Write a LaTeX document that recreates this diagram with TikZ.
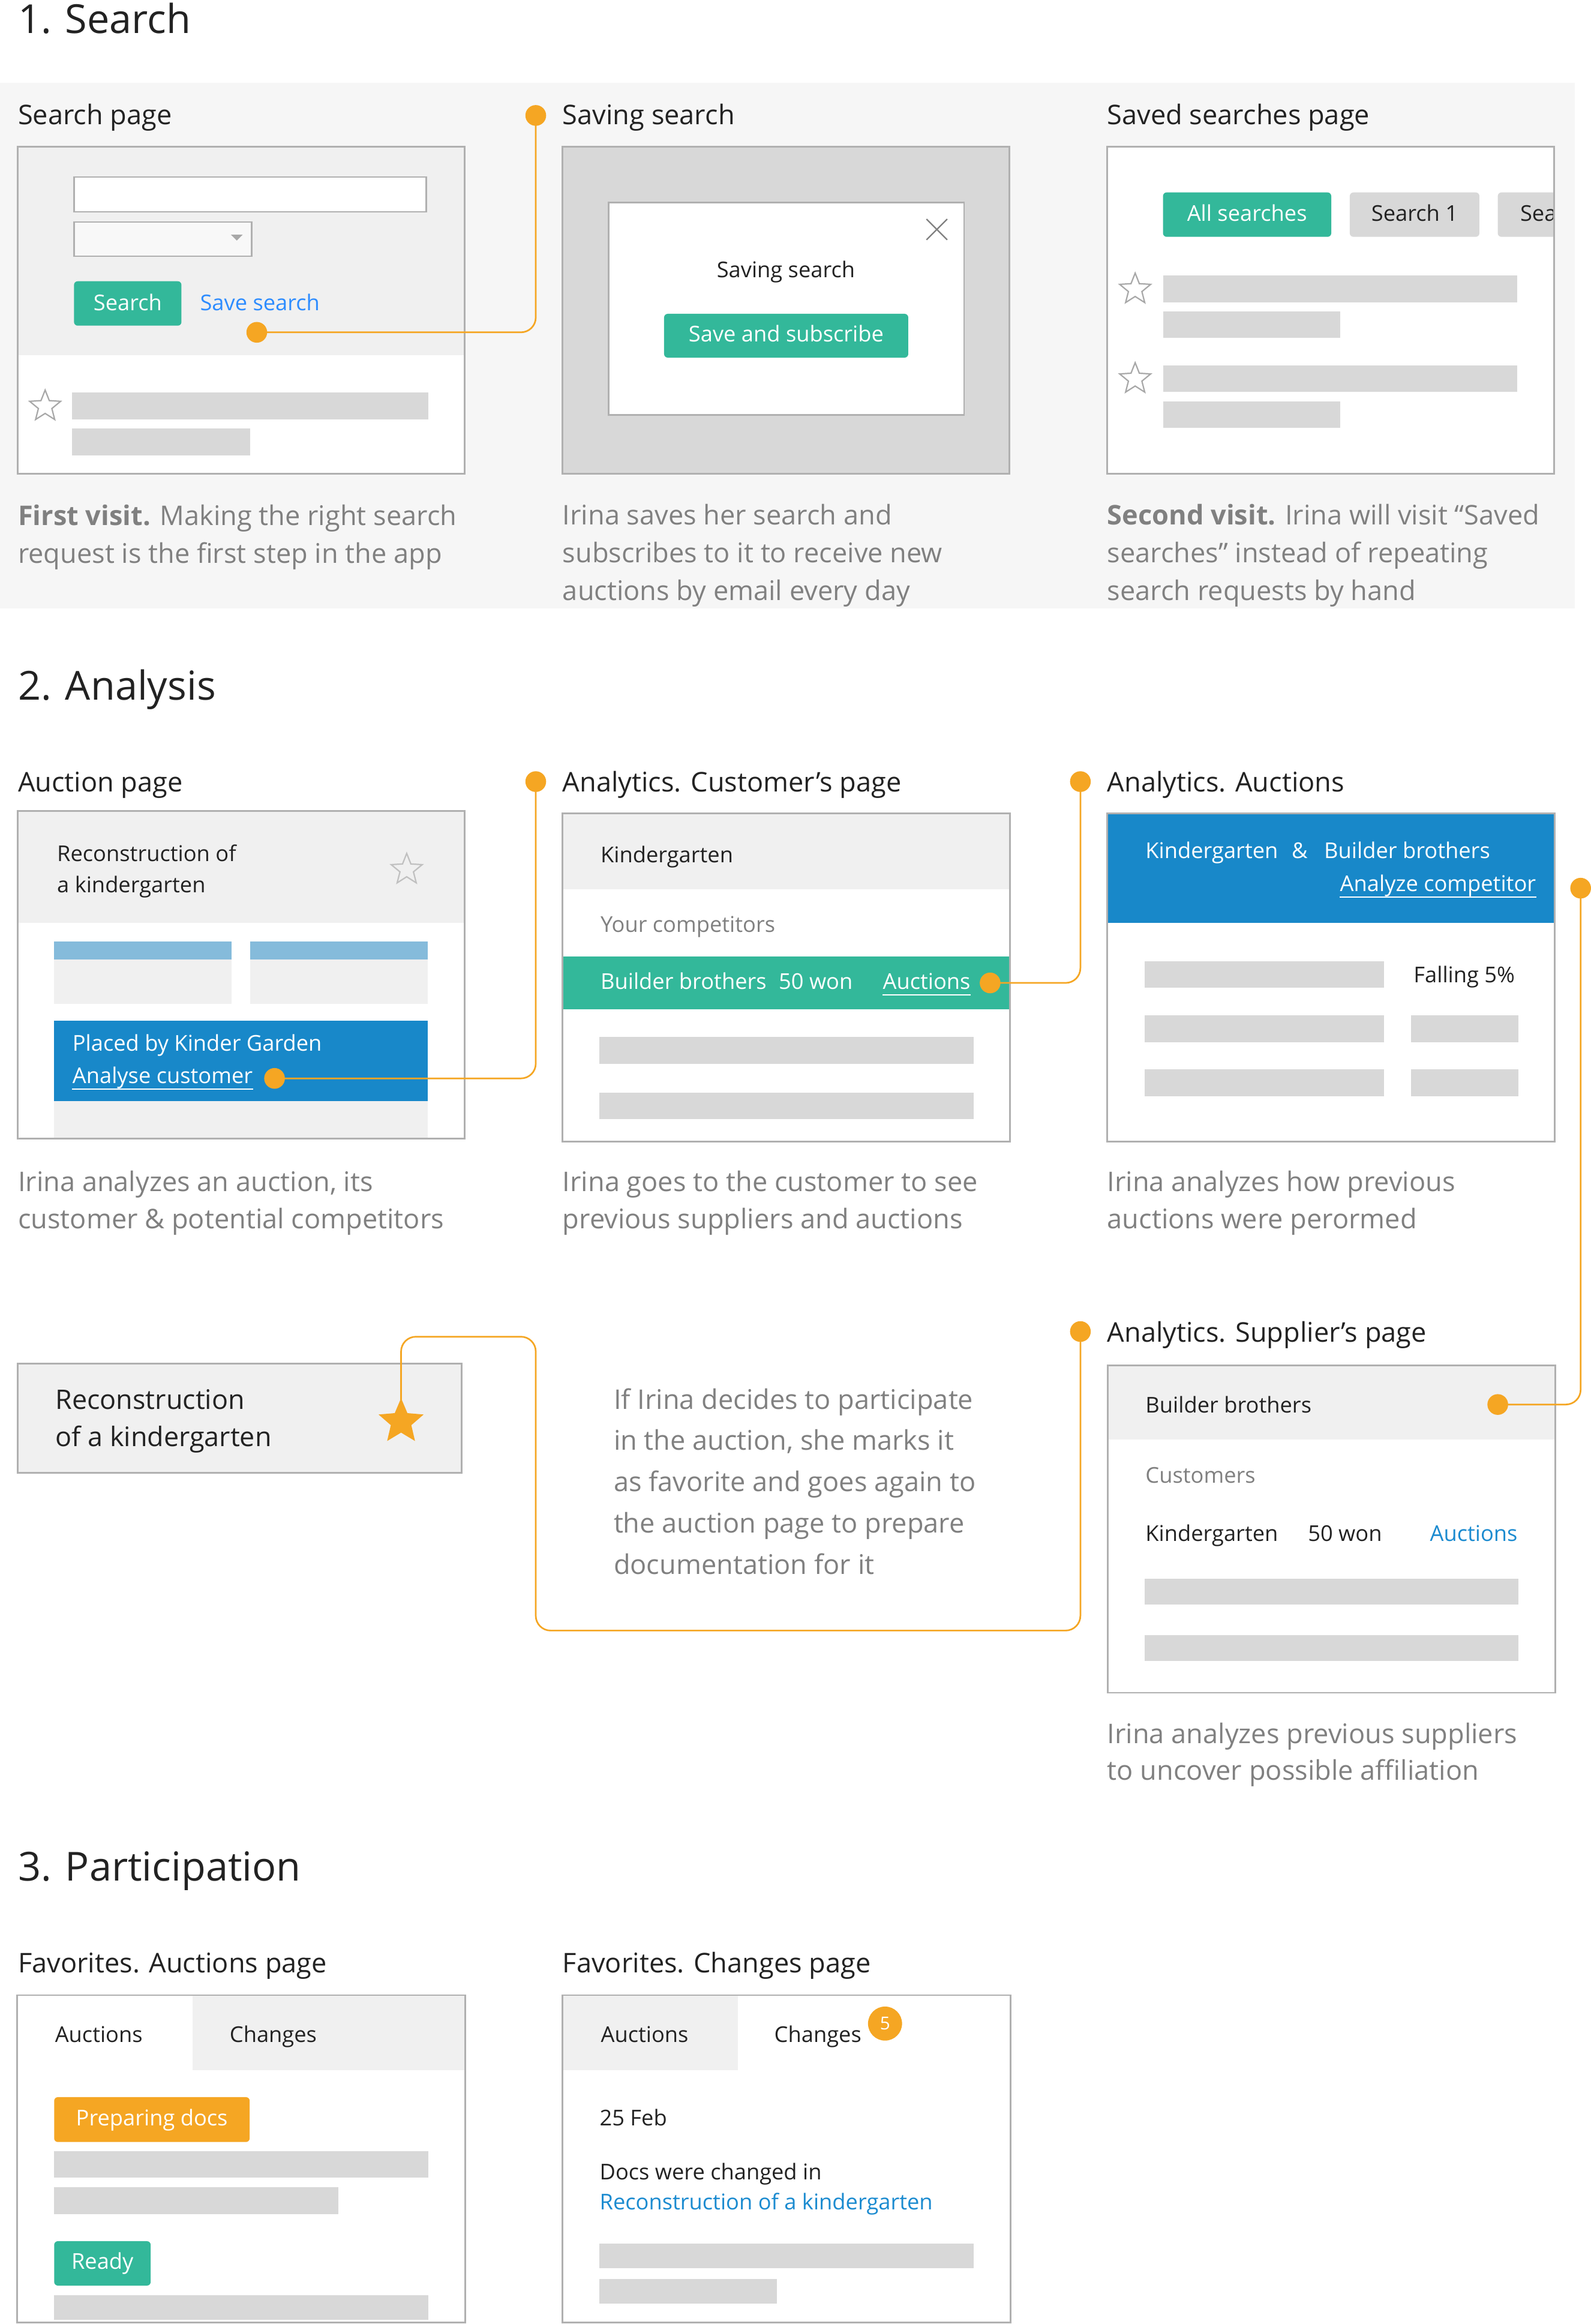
\documentclass[tikz,border=0pt]{standalone}
\usepackage{fontspec}
\setmainfont{Open Sans}
\usetikzlibrary{shapes.geometric}
\definecolor{cteal}{HTML}{33B89A}
\definecolor{cblue}{HTML}{1888C9}
\definecolor{cblue2}{HTML}{1B8BD0}
\definecolor{corange}{HTML}{F5A623}
\definecolor{cborder}{HTML}{B0B0B0}
\definecolor{clight}{HTML}{F0F0F0}
\definecolor{cbar}{HTML}{D8D8D8}
\definecolor{ccap}{HTML}{808080}
\definecolor{cband}{HTML}{F6F6F6}
\definecolor{clink}{HTML}{2D8CFF}
\definecolor{clblue}{HTML}{85BBDB}
\definecolor{ctext}{HTML}{222222}
\definecolor{cstar}{HTML}{A8A8A8}
\definecolor{cdrop}{HTML}{F8F8F8}
\pgfdeclarelayer{connlayer}
\pgfdeclarelayer{frontlayer}
\pgfsetlayers{main,connlayer,frontlayer}
\tikzset{
  frame/.style={draw=cborder, line width=1.2pt},
  bar/.style={fill=cbar},
  conn/.style={draw=corange, line width=1.1pt, rounded corners=10pt},
  dot/.style={circle, fill=corange, inner sep=0pt, minimum size=14pt},
  txt/.style={inner sep=0pt, anchor=base west, text=ctext},
  lab/.style={txt, font=\fontsize{18.3}{22}\selectfont},
  body/.style={txt, font=\fontsize{14.7}{18}\selectfont},
  capt/.style={txt, text=ccap, font=\fontsize{18.3}{22}\selectfont},
  ttl/.style={txt, font=\fontsize{27}{32}\selectfont},
  btntext/.style={body, anchor=base, text=white},
  ostar/.style={star, star points=5, star point ratio=2.3, draw=cstar, line width=0.9pt, inner sep=0pt, minimum size=22pt},
  ulink/.style={line width=0.9pt},
}
\begin{document}
\begin{tikzpicture}[x=1pt,y=-1pt]
\useasboundingbox (0,0) rectangle (1075,1569.96);
\fill[white] (0,0) rectangle (1075,1569.96);
% ---------------- Section 1 ----------------
\fill[cband] (0,56) rectangle (1064,411);
\node[ttl] (t1) at (12,22.4) {1. Search};
\node[lab] (l1) at (12,84) {Search page};
\node[lab] (l2) at (380,84) {Saving search};
\node[lab] (l3) at (748,84) {Saved searches page};

% Search page
\fill[clight] (12,99) rectangle (314,240);
\fill[white] (12,240) rectangle (314,320);
\draw[frame] (12,99) rectangle (314,320);
\draw[fill=white, draw=cborder, line width=1pt] (50,119.5) rectangle (288,143);
\draw[fill=cdrop, draw=cborder, line width=1pt] (50,150) rectangle (170,173);
\fill[cstar] (156,158.5) -- (164,158.5) -- (160,162.5) -- cycle;
\fill[cteal, rounded corners=2.5pt] (50,190) rectangle (122.6,220);
\node[btntext] (bsearch) at (86.3,209.6) {Search};
\node[body, text=clink] (savelink) at (135,209.6) {Save search};
\node[ostar] (s1) at (30.5,274.5) {};
\fill[cbar] (48.7,265) rectangle (289.6,283.5);
\fill[cbar] (48.7,289.6) rectangle (169,307.6);
\node[capt] (c1a) at (12,355) {\textbf{First visit.} Making the right search};
\node[capt] (c1b) at (12,380.6) {request is the first step in the app};

% Saving search
\fill[cbar] (380,99) rectangle (682,320);
\draw[frame] (380,99) rectangle (682,320);
\draw[fill=white, draw=cborder, line width=1.2pt] (411.4,136.8) rectangle (651.4,280.3);
\draw[draw=ccap, line width=0.9pt] (626,148) -- (640,162) (626,162) -- (640,148);
\node[body, anchor=base] (dlgt) at (531,187.5) {Saving search};
\fill[cteal, rounded corners=2.5pt] (448.7,212) rectangle (613.7,241.6);
\node[btntext] (bsave) at (531.2,230.7) {Save and subscribe};
\node[capt] (c2a) at (380,354.5) {Irina saves her search and};
\node[capt] (c2b) at (380,380) {subscribes to it to receive new};
\node[capt] (c2c) at (380,405.5) {auctions by email every day};

% Saved searches page
\fill[white] (748,99) rectangle (1050,320);
\fill[cteal, rounded corners=2.5pt] (785.8,130) rectangle (899.5,160);
\node[btntext] (ball) at (842.6,149.3) {All searches};
\fill[cbar, rounded corners=2.5pt] (912,130) rectangle (999.6,160);
\node[body, anchor=base] (bs1) at (955.8,149.3) {Search 1};
\fill[cbar, rounded corners=2.5pt] (1012,130) rectangle (1060,160);
\fill[cband] (1050.6,120) rectangle (1064,170);
\node[body] (bs2) at (1027,149.3) {Sea};
\draw[frame] (748,99) rectangle (1050,320);
\node[ostar] (s2) at (767,195.5) {};
\node[ostar] (s3) at (767,256) {};
\fill[cbar] (785.8,186) rectangle (1025,204.4);
\fill[cbar] (785.8,210.5) rectangle (905.5,228.3);
\fill[cbar] (785.8,247) rectangle (1025,264.8);
\fill[cbar] (785.8,271) rectangle (905.5,289);
\node[capt] (c3a) at (748,354.5) {\textbf{Second visit.} Irina will visit “Saved};
\node[capt] (c3b) at (748,380) {searches” instead of repeating};
\node[capt] (c3c) at (748,405.5) {search requests by hand};

% ---------------- Section 2 ----------------
\node[ttl] (t2) at (12,473) {2. Analysis};
\node[lab] (l4) at (12,534.7) {Auction page};
\node[lab] (l5) at (380,534.7) {Analytics. Customer’s page};
\node[lab] (l6) at (748,534.7) {Analytics. Auctions};

% Auction page
\fill[clight] (12,548) rectangle (314,623.6);
\fill[white] (12,623.6) rectangle (314,769);
\node[body] (rk1) at (38.4,582) {Reconstruction of};
\node[body] (rk2) at (38.4,603) {a kindergarten};
\node[ostar, draw=cborder!80] (s4) at (274.8,587.5) {};
\fill[clblue] (36.5,636) rectangle (156.6,648);
\fill[clight] (36.5,648) rectangle (156.6,678);
\fill[clblue] (169,636) rectangle (289,648);
\fill[clight] (169,648) rectangle (289,678);
\fill[cblue] (36.5,689.6) rectangle (289,743.9);
\fill[clight] (36.5,743.9) rectangle (289,769);
\draw[frame] (12,548) rectangle (314,769);
\node[body, text=white] (placed) at (48.8,709.8) {Placed by Kinder Garden};
\node[body, text=white] (anacust) at (48.8,731.8) {Analyse customer};
\draw[white, ulink] ([yshift=-3.8pt]anacust.base west) -- ([yshift=-3.8pt]anacust.base east);
\node[capt] (c4a) at (12,805) {Irina analyzes an auction, its};
\node[capt] (c4b) at (12,830) {customer \& potential competitors};

% Customer's page
\fill[white] (380,549.5) rectangle (682.5,771);
\fill[clight] (380,549.5) rectangle (682.5,600.6);
\fill[cteal] (380,646) rectangle (682.5,682);
\draw[frame] (380,549.5) rectangle (682.5,771);
\node[body] (kg1) at (405.6,582.5) {Kindergarten};
\node[body, text=ccap] (yc) at (405.6,629.7) {Your competitors};
\node[body, text=white] (bb1) at (405.6,668.3) {Builder brothers};
\node[body, text=white] (won1) at (526,668.3) {50 won};
\node[body, text=white] (auc1) at (596.3,668.3) {Auctions};
\draw[white, ulink] ([yshift=-3.8pt]auc1.base west) -- ([yshift=-3.8pt]auc1.base east);
\fill[cbar] (404.8,700.4) rectangle (658,718.6);
\fill[cbar] (404.8,738) rectangle (658,756);
\node[capt] (c5a) at (380,805) {Irina goes to the customer to see};
\node[capt] (c5b) at (380,830) {previous suppliers and auctions};

% Analytics. Auctions
\fill[white] (748,549.5) rectangle (1050.5,771);
\fill[cblue] (748,549.5) rectangle (1050.5,623.6);
\draw[frame] (748,549.5) rectangle (1050.5,771);
\node[body, text=white] (kg2) at (773.8,580) {Kindergarten};
\node[body, text=white] (amp) at (872.6,580) {\&};
\node[body, text=white] (bb2) at (894.5,580) {Builder brothers};
\node[body, text=white, anchor=base east] (anacomp) at (1038,602.2) {Analyze competitor};
\draw[white, ulink] ([yshift=-3.8pt]anacomp.base west) -- ([yshift=-3.8pt]anacomp.base east);
\fill[cbar] (773.4,649.4) rectangle (935,667.4);
\node[body] (fall) at (955,663.6) {Falling 5\%};
\fill[cbar] (773.4,685.8) rectangle (935,704);
\fill[cbar] (953.5,685.8) rectangle (1026,704);
\fill[cbar] (773.4,722.4) rectangle (935,740.5);
\fill[cbar] (953.5,722.4) rectangle (1026,740.5);
\node[capt] (c6a) at (748,805) {Irina analyzes how previous};
\node[capt] (c6b) at (748,830) {auctions were perormed};

% Reconstruction card
\fill[clight] (12,921) rectangle (311.8,995);
\draw[frame] (12,921) rectangle (311.8,995);
\node[txt, font=\fontsize{18.2}{22}\selectfont] (rc1) at (37.3,951.8) {Reconstruction};
\node[txt, font=\fontsize{18.2}{22}\selectfont] (rc2) at (37.3,977.3) {of a kindergarten};

% Middle text
\node[capt] (m1) at (414.5,951.8) {If Irina decides to participate};
\node[capt] (m2) at (414.5,979.7) {in the auction, she marks it};
\node[capt] (m3) at (414.5,1007.6) {as favorite and goes again to};
\node[capt] (m4) at (414.5,1035.5) {the auction page to prepare};
\node[capt] (m5) at (414.5,1063.4) {documentation for it};

% Supplier's page
\node[lab] (l7) at (748,906.6) {Analytics. Supplier’s page};
\fill[white] (748.4,922.5) rectangle (1051,1143.5);
\fill[clight] (748.4,922.5) rectangle (1051,972.5);
\draw[frame] (748.4,922.5) rectangle (1051,1143.5);
\node[body] (bb3) at (773.8,954.6) {Builder brothers};
\node[body, text=ccap] (cust) at (773.8,1002) {Customers};
\node[body] (kg3) at (773.8,1041) {Kindergarten};
\node[body] (won3) at (883.6,1041) {50 won};
\node[body, text=cblue2] (auc3) at (966,1041) {Auctions};
\fill[cbar] (773.4,1066.5) rectangle (1026,1084);
\fill[cbar] (773.4,1104.4) rectangle (1026,1122);
\node[capt] (c7a) at (748,1177.6) {Irina analyzes previous suppliers};
\node[capt] (c7b) at (748,1202.6) {to uncover possible affiliation};

% ---------------- Section 3 ----------------
\node[ttl] (t3) at (12,1270.4) {3. Participation};
\node[lab] (l8) at (12,1332.7) {Favorites. Auctions page};
\node[lab] (l9) at (380,1332.7) {Favorites. Changes page};

% Favorites auctions
\fill[white] (11.5,1347.8) rectangle (314.4,1568.9);
\fill[clight] (130.3,1347.8) rectangle (314.4,1398.4);
\draw[frame] (11.5,1347.8) rectangle (314.4,1568.9);
\node[body] (ta1) at (37,1379.7) {Auctions};
\node[body] (tc1) at (155,1379.7) {Changes};
\fill[corange, rounded corners=2.5pt] (36.6,1416.7) rectangle (168.7,1447);
\node[btntext] (prep) at (102.6,1435.8) {Preparing docs};
\fill[cbar] (36.6,1453) rectangle (289.5,1471);
\fill[cbar] (36.6,1477.6) rectangle (228.5,1495.7);
\fill[cteal, rounded corners=2.5pt] (36.6,1514) rectangle (101.8,1544);
\node[btntext] (ready) at (69.2,1533) {Ready};
\fill[cbar] (36.6,1550.5) rectangle (289.5,1567.3);

% Favorites changes
\fill[white] (380,1347.8) rectangle (683,1568.9);
\fill[clight] (380,1347.8) rectangle (498.6,1398.4);
\draw[frame] (380,1347.8) rectangle (683,1568.9);
\node[body] (ta2) at (405.8,1379.7) {Auctions};
\node[body] (tc2) at (523,1379.7) {Changes};
\node[circle, fill=corange, inner sep=0pt, minimum size=23pt, text=white, font=\fontsize{12}{14}\selectfont] (badge) at (598,1367) {5};
\node[body] (feb) at (405,1435.8) {25 Feb};
\node[body] (docs) at (405,1472.3) {Docs were changed in};
\node[body, text=cblue2] (reclink) at (405,1492.8) {Reconstruction of a kindergarten};
\fill[cbar] (405,1515.5) rectangle (658,1532.3);
\fill[cbar] (405,1539.6) rectangle (525,1556);

% ---------------- Connectors ----------------
\begin{pgfonlayer}{frontlayer}
\node[dot] (dSave) at (173.5,224.5) {};
\node[dot] (dL2) at (362,78) {};
\node[dot] (dAna) at (185.5,728.5) {};
\node[dot] (dL5) at (362,528) {};
\node[dot] (dAuc) at (669,664) {};
\node[dot] (dL6) at (730,528) {};
\node[dot] (dRight) at (1068,600) {};
\node[dot] (dBB) at (1012,948.8) {};
\node[dot] (dL7) at (730,899.5) {};
\node[star, star points=5, star point ratio=2.2, fill=corange, inner sep=0pt, minimum size=32pt] (fstar) at (271,960.5) {};
\end{pgfonlayer}
\coordinate (k1) at (730,1101.5);
\coordinate (k2) at (362,1101.5);
\coordinate (k3) at (362,903);
\coordinate (k4) at (271,903);
\begin{pgfonlayer}{connlayer}
\draw[conn] (dSave.center) -| (dL2.center);
\draw[conn] (dAna.center) -| (dL5.center);
\draw[conn] (dAuc.center) -| (dL6.center);
\draw[conn] (dBB.center) -| (dRight.center);
\draw[conn] (dL7.center) -- (k1) -- (k2) -- (k3) -- (k4) -- (fstar.center);
\end{pgfonlayer}
\end{tikzpicture}
\end{document}
